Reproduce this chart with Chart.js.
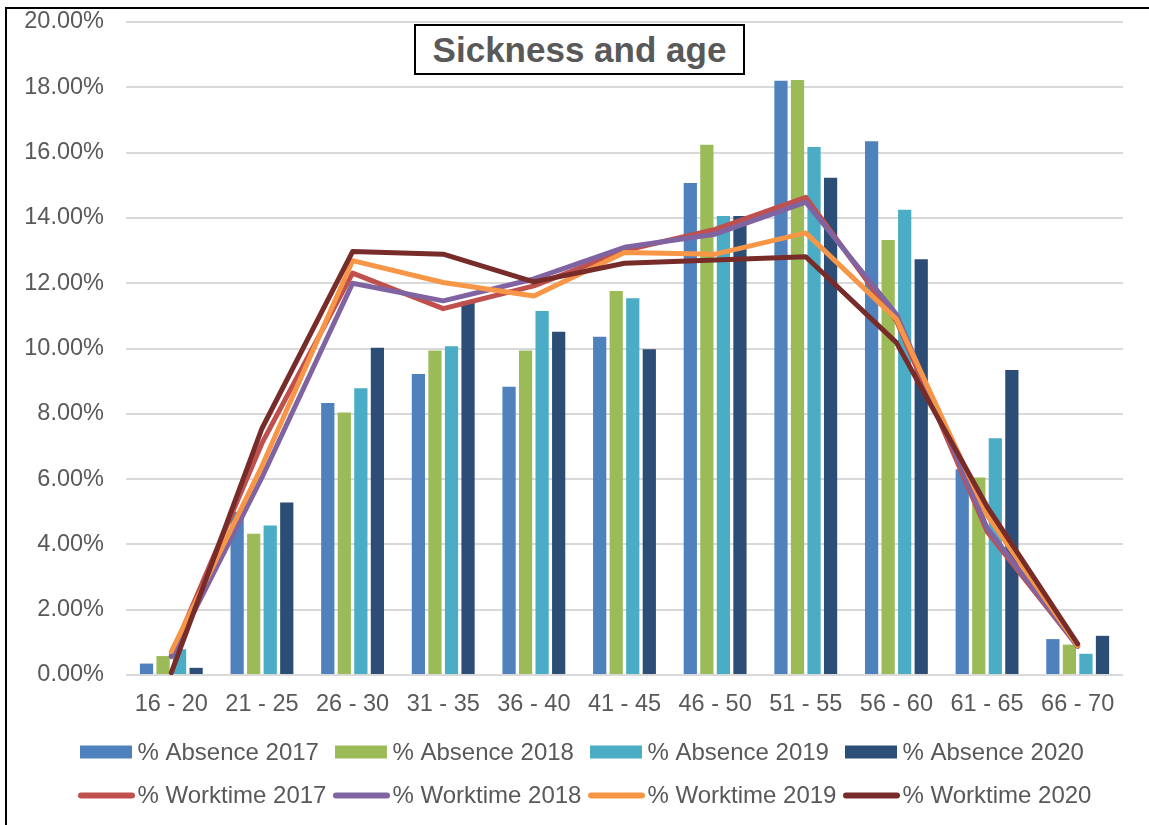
<!DOCTYPE html>
<html>
<head>
<meta charset="UTF-8" />
<title>Sickness and age</title>
<style>
html, body { margin: 0; padding: 0; background: #fff; overflow: hidden; }
#wrap { position: relative; width: 1149px; height: 825px; }
#frame { position: absolute; left: 5px; top: 7px; width: 1200px; height: 900px; border: 2px solid #000; pointer-events: none; }
#chart { position: absolute; left: 0; top: 0; }
#title { position: absolute; left: 414px; top: 24px; width: 331px; height: 51px; box-sizing: border-box;
  border: 2px solid #000; background: #fff; display: flex; align-items: center; justify-content: center;
  font: bold 35px "Liberation Sans", Arial, sans-serif; color: #595959; }
</style>
</head>
<body>
<div id="wrap">
  <canvas id="chart" width="1149" height="825"></canvas>
  <div id="frame"></div>
  <div id="title">Sickness and age</div>
</div>
<script src="https://cdn.jsdelivr.net/npm/chart.js@4.4.1/dist/chart.umd.min.js"></script>
<script>
var ages = ["16 - 20","21 - 25","26 - 30","31 - 35","36 - 40","41 - 45","46 - 50","51 - 55","56 - 60","61 - 65","66 - 70"];
var yTicks = [0, 2, 4, 6, 8, 10, 12, 14, 16, 18, 20];

// % absence per age band
var absence2017 = [0.35, 5.0, 8.33, 9.22, 8.83, 10.36, 15.07, 18.2, 16.35, 6.3, 1.1];
var absence2018 = [0.58, 4.33, 8.04, 9.94, 9.94, 11.76, 16.24, 18.22, 13.32, 6.05, 0.93];
var absence2019 = [0.79, 4.58, 8.78, 10.07, 11.15, 11.54, 14.06, 16.17, 14.25, 7.25, 0.65];
var absence2020 = [0.22, 5.28, 10.02, 11.45, 10.51, 9.98, 14.06, 15.23, 12.73, 9.34, 1.2];

// % worktime per age band
var worktime2017 = [0.6, 7.1, 12.31, 11.22, 11.92, 13.0, 13.65, 14.63, 10.85, 4.4, 0.88];
var worktime2018 = [0.56, 6.05, 12.0, 11.46, 12.13, 13.1, 13.5, 14.48, 11.05, 4.5, 0.88];
var worktime2019 = [0.72, 6.4, 12.69, 12.02, 11.61, 12.94, 12.89, 13.54, 10.9, 4.9, 0.9];
var worktime2020 = [0.07, 7.55, 12.97, 12.89, 12.04, 12.61, 12.71, 12.81, 10.18, 5.16, 0.95];

var txt = "#595959";
var fontName = '"Liberation Sans", Arial, sans-serif';

function barSet(label, data, color) {
	return { type: 'bar', label: label, data: data, backgroundColor: color, borderWidth: 0, order: 10 };
}
function lineSet(label, data, color, order) {
	return { type: 'line', label: label, data: data, borderColor: color, backgroundColor: color,
		borderWidth: 5, pointRadius: 0, tension: 0, fill: false, order: order,
		borderJoinStyle: 'round', borderCapStyle: 'round' };
}

// legend drawn in a 4 column grid like the spreadsheet legend
var gridLegend = {
	id: 'gridLegend',
	afterDraw: function(chart) {
		var ctx = chart.ctx;
		ctx.save();
		ctx.font = '24px ' + fontName;
		ctx.textBaseline = 'middle';
		chart.data.datasets.forEach(function(ds, i) {
			var x = 80 + (i % 4) * 255;
			var y = 752 + Math.floor(i / 4) * 43.5;
			if (ds.type === 'bar') {
				ctx.fillStyle = ds.backgroundColor;
				ctx.fillRect(x, y - 6.5, 52, 13);
			} else {
				ctx.strokeStyle = ds.borderColor;
				ctx.lineWidth = 6;
				ctx.lineCap = 'round';
				ctx.beginPath();
				ctx.moveTo(x + 1, y);
				ctx.lineTo(x + 52, y);
				ctx.stroke();
			}
			ctx.fillStyle = txt;
			ctx.fillText(ds.label, x + 57.5, y + 1);
		});
		ctx.restore();
	}
};

new Chart(document.getElementById('chart'), {
	data: {
		labels: ages,
		datasets: [
			barSet('% Absence 2017', absence2017, '#4F81BD'),
			barSet('% Absence 2018', absence2018, '#9BBB59'),
			barSet('% Absence 2019', absence2019, '#4BACC6'),
			barSet('% Absence 2020', absence2020, '#2C4D75'),
			lineSet('% Worktime 2017', worktime2017, '#C0504D', 4),
			lineSet('% Worktime 2018', worktime2018, '#8064A2', 3),
			lineSet('% Worktime 2019', worktime2019, '#F79646', 2),
			lineSet('% Worktime 2020', worktime2020, '#772C2A', 1)
		]
	},
	options: {
		responsive: false,
		animation: false,
		layout: { padding: { top: 22, right: 26, bottom: 0, left: 0 } },
		datasets: { bar: { categoryPercentage: 0.73, barPercentage: 0.8 } },
		plugins: { legend: { display: false }, tooltip: { enabled: false }, title: { display: false } },
		scales: {
			x: {
				grid: { display: false, drawTicks: false },
				border: { display: false },
				ticks: { color: txt, font: { family: fontName, size: 23.5 }, padding: 15, maxRotation: 0 },
				afterFit: function(s) { s.height = 150; }
			},
			y: {
				min: yTicks[0],
				max: yTicks[yTicks.length - 1],
				afterBuildTicks: function(s) { s.ticks = yTicks.map(function(v) { return { value: v }; }); },
				grid: { color: '#d9d9d9', lineWidth: 2, drawTicks: false },
				border: { display: false },
				ticks: { color: txt, font: { family: fontName, size: 23.5 }, padding: 22,
					callback: function(v) { return v.toFixed(2) + '%'; } },
				afterFit: function(s) { s.width = 126; s.paddingTop = 0; s.paddingBottom = 0; }
			}
		}
	},
	plugins: [gridLegend]
});
</script>
</body>
</html>
